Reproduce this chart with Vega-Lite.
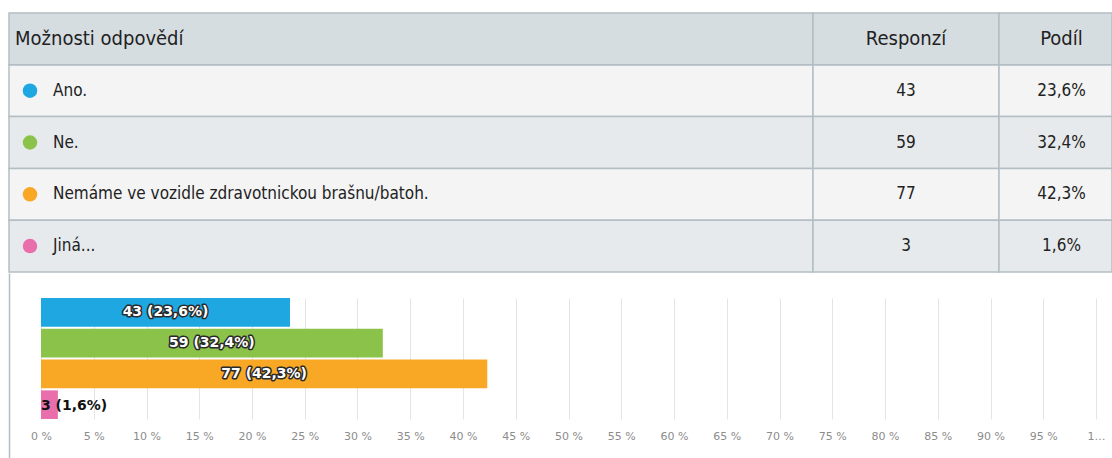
{
  "$schema": "https://vega.github.io/schema/vega-lite/v6.json",
  "padding": {"left": 8, "top": 12, "right": 0, "bottom": 0},
  "background": "white",
  "config": {
    "view": {"stroke": null},
    "font": "DejaVu Sans"
  },
  "datasets": {
    "answers": [
      {"answer": "Ano.", "count": 43, "share": "23,6%", "pct": 0.236, "barLabel": "43 (23,6%)"},
      {"answer": "Ne.", "count": 59, "share": "32,4%", "pct": 0.324, "barLabel": "59 (32,4%)"},
      {"answer": "Nemáme ve vozidle zdravotnickou brašnu/batoh.", "count": 77, "share": "42,3%", "pct": 0.423, "barLabel": "77 (42,3%)"},
      {"answer": "Jiná...", "count": 3, "share": "1,6%", "pct": 0.016, "barLabel": "3 (1,6%)"}
    ],
    "header": [
      {"row": "hdr", "c1": "Možnosti odpovědí", "c2": "Responzí", "c3": "Podíl"}
    ]
  },
  "vconcat": [
    {
      "hconcat": [
        {
          "width": 804,
          "height": 259,
          "layer": [
            {
              "data": {"name": "answers"},
              "mark": {"type": "rect", "stroke": "#b3bec4", "strokeWidth": 1.5},
              "encoding": {
                "y": {"field": "answer", "type": "nominal", "sort": null, "scale": {"domain": ["hdr", "Ano.", "Ne.", "Nemáme ve vozidle zdravotnickou brašnu/batoh.", "Jiná..."], "paddingInner": 0, "paddingOuter": 0}, "axis": null},
                "fill": {"field": "answer", "type": "nominal", "scale": {"domain": ["Ano.", "Ne.", "Nemáme ve vozidle zdravotnickou brašnu/batoh.", "Jiná..."], "range": ["#f4f4f4", "#e7eaec", "#f4f4f4", "#e7eaec"]}, "legend": null}
              }
            },
            {
              "data": {"name": "header"},
              "mark": {"type": "rect", "fill": "#d6dde1", "stroke": "#b3bec4", "strokeWidth": 1.5},
              "encoding": {
                "y": {"field": "row", "type": "nominal", "axis": null}
              }
            },
            {
              "data": {"name": "answers"},
              "mark": {"type": "circle", "size": 210, "opacity": 1},
              "encoding": {
                "y": {"field": "answer", "type": "nominal", "sort": null, "axis": null},
                "x": {"value": 21},
                "color": {"field": "answer", "type": "nominal", "scale": {"domain": ["Ano.", "Ne.", "Nemáme ve vozidle zdravotnickou brašnu/batoh.", "Jiná..."], "range": ["#1ea7e1", "#8bc34a", "#f9a825", "#e86fac"]}, "legend": null}
              }
            },
            {
              "data": {"name": "answers"},
              "mark": {"type": "text", "align": "left", "baseline": "middle", "font": "'DejaVu Sans Condensed'", "fontSize": 17, "color": "#222"},
              "encoding": {
                "y": {"field": "answer", "type": "nominal", "sort": null, "axis": null},
                "x": {"value": 44},
                "text": {"field": "answer"}
              }
            },
            {
              "data": {"name": "header"},
              "mark": {"type": "text", "align": "left", "baseline": "middle", "font": "'DejaVu Sans Condensed'", "fontSize": 20, "color": "#222"},
              "encoding": {
                "y": {"field": "row", "type": "nominal", "axis": null},
                "x": {"value": 6},
                "text": {"field": "c1"}
              }
            }
          ]
        },
        {
          "width": 186,
          "height": 259,
          "layer": [
            {
              "data": {"name": "answers"},
              "mark": {"type": "rect", "stroke": "#b3bec4", "strokeWidth": 1.5},
              "encoding": {
                "y": {"field": "answer", "type": "nominal", "sort": null, "scale": {"domain": ["hdr", "Ano.", "Ne.", "Nemáme ve vozidle zdravotnickou brašnu/batoh.", "Jiná..."], "paddingInner": 0, "paddingOuter": 0}, "axis": null},
                "fill": {"field": "answer", "type": "nominal", "scale": {"domain": ["Ano.", "Ne.", "Nemáme ve vozidle zdravotnickou brašnu/batoh.", "Jiná..."], "range": ["#f4f4f4", "#e7eaec", "#f4f4f4", "#e7eaec"]}, "legend": null}
              }
            },
            {
              "data": {"name": "header"},
              "mark": {"type": "rect", "fill": "#d6dde1", "stroke": "#b3bec4", "strokeWidth": 1.5},
              "encoding": {
                "y": {"field": "row", "type": "nominal", "axis": null}
              }
            },
            {
              "data": {"name": "answers"},
              "mark": {"type": "text", "align": "center", "baseline": "middle", "font": "'DejaVu Sans Condensed'", "fontSize": 17, "color": "#222"},
              "encoding": {
                "y": {"field": "answer", "type": "nominal", "sort": null, "axis": null},
                "text": {"field": "count"}
              }
            },
            {
              "data": {"name": "header"},
              "mark": {"type": "text", "align": "center", "baseline": "middle", "font": "'DejaVu Sans Condensed'", "fontSize": 20, "color": "#222"},
              "encoding": {
                "y": {"field": "row", "type": "nominal", "axis": null},
                "text": {"field": "c2"}
              }
            }
          ]
        },
        {
          "width": 113,
          "height": 259,
          "layer": [
            {
              "data": {"name": "answers"},
              "mark": {"type": "rect", "stroke": "#b3bec4", "strokeWidth": 1.5},
              "encoding": {
                "y": {"field": "answer", "type": "nominal", "sort": null, "scale": {"domain": ["hdr", "Ano.", "Ne.", "Nemáme ve vozidle zdravotnickou brašnu/batoh.", "Jiná..."], "paddingInner": 0, "paddingOuter": 0}, "axis": null},
                "fill": {"field": "answer", "type": "nominal", "scale": {"domain": ["Ano.", "Ne.", "Nemáme ve vozidle zdravotnickou brašnu/batoh.", "Jiná..."], "range": ["#f4f4f4", "#e7eaec", "#f4f4f4", "#e7eaec"]}, "legend": null}
              }
            },
            {
              "data": {"name": "header"},
              "mark": {"type": "rect", "fill": "#d6dde1", "stroke": "#b3bec4", "strokeWidth": 1.5},
              "encoding": {
                "y": {"field": "row", "type": "nominal", "axis": null}
              }
            },
            {
              "data": {"name": "answers"},
              "mark": {"type": "text", "align": "center", "baseline": "middle", "dx": 6, "font": "'DejaVu Sans Condensed'", "fontSize": 17, "color": "#222"},
              "encoding": {
                "y": {"field": "answer", "type": "nominal", "sort": null, "axis": null},
                "text": {"field": "share"}
              }
            },
            {
              "data": {"name": "header"},
              "mark": {"type": "text", "align": "center", "baseline": "middle", "dx": 6, "font": "'DejaVu Sans Condensed'", "fontSize": 20, "color": "#222"},
              "encoding": {
                "y": {"field": "row", "type": "nominal", "axis": null},
                "text": {"field": "c3"}
              }
            }
          ]
        }
      ],
      "spacing": 0,
      "bounds": "flush"
    },
    {
      "width": 1104,
      "height": 121,
      "data": {"name": "answers"},
      "layer": [
        {
          "mark": {"type": "bar"},
          "encoding": {
            "y": {"field": "answer", "type": "nominal", "sort": null,
                  "scale": {"type": "band", "domain": ["Ano.", "Ne.", "Nemáme ve vozidle zdravotnickou brašnu/batoh.", "Jiná..."], "paddingInner": 0.07, "paddingOuter": 0},
                  "axis": null},
            "x": {"field": "pct", "type": "quantitative",
                  "scale": {"domain": [0, 1], "range": [32, 1087], "nice": false, "zero": true},
                  "axis": {"values": [0, 0.05, 0.1, 0.15, 0.2, 0.25, 0.3, 0.35, 0.4, 0.45, 0.5, 0.55, 0.6, 0.65, 0.7, 0.75, 0.8, 0.85, 0.9, 0.95, 1],
                           "labelExpr": "datum.value >= 1 ? '1…' : round(datum.value * 100) + ' %'",
                           "domain": false, "ticks": false, "grid": true, "gridColor": "#e4e4e4", "gridWidth": 1,
                           "labelColor": "#8c8c8c", "labelFont": "DejaVu Sans", "labelFontSize": 11, "labelPadding": 11,
                           "labelOverlap": false, "labelFlush": false, "title": null}},
            "color": {"field": "answer", "type": "nominal", "scale": {"domain": ["Ano.", "Ne.", "Nemáme ve vozidle zdravotnickou brašnu/batoh.", "Jiná..."], "range": ["#1ea7e1", "#8bc34a", "#f9a825", "#e86fac"]}, "legend": null}
          }
        },
        {
          "transform": [{"filter": "datum.pct >= 0.05"}],
          "mark": {"type": "text", "align": "center", "baseline": "middle", "fontWeight": "bold", "fontSize": 14, "font": "DejaVu Sans", "fill": "#2a2a2a", "stroke": "#2a2a2a", "strokeWidth": 3, "strokeJoin": "round"},
          "encoding": {
            "y": {"field": "answer", "type": "nominal", "sort": null, "scale": {"type": "band", "domain": ["Ano.", "Ne.", "Nemáme ve vozidle zdravotnickou brašnu/batoh.", "Jiná..."], "paddingInner": 0.07, "paddingOuter": 0}, "axis": null},
            "x": {"field": "pct", "type": "quantitative", "scale": {"domain": [0, 1], "range": [32, 559.5], "nice": false}, "axis": null},
            "text": {"field": "barLabel"}
          }
        },
        {
          "transform": [{"filter": "datum.pct >= 0.05"}],
          "mark": {"type": "text", "align": "center", "baseline": "middle", "fontWeight": "bold", "fontSize": 14, "font": "DejaVu Sans", "fill": "white"},
          "encoding": {
            "y": {"field": "answer", "type": "nominal", "sort": null, "scale": {"type": "band", "domain": ["Ano.", "Ne.", "Nemáme ve vozidle zdravotnickou brašnu/batoh.", "Jiná..."], "paddingInner": 0.07, "paddingOuter": 0}, "axis": null},
            "x": {"field": "pct", "type": "quantitative", "scale": {"domain": [0, 1], "range": [32, 559.5], "nice": false}, "axis": null},
            "text": {"field": "barLabel"}
          }
        },
        {
          "transform": [{"filter": "datum.pct < 0.05"}],
          "mark": {"type": "text", "align": "left", "baseline": "middle", "fontWeight": "bold", "fontSize": 14, "font": "DejaVu Sans", "fill": "#111"},
          "encoding": {
            "y": {"field": "answer", "type": "nominal", "sort": null,
                  "scale": {"type": "band", "domain": ["Ano.", "Ne.", "Nemáme ve vozidle zdravotnickou brašnu/batoh.", "Jiná..."], "range": [-25, 161], "paddingInner": 0.07, "paddingOuter": 1.0556, "align": 0.3846},
                  "axis": {"labels": false, "ticks": false, "title": null, "grid": false, "domain": true, "domainColor": "#b3bec4", "domainWidth": 1.5}},
            "x": {"datum": 0, "type": "quantitative", "scale": {"domain": [0, 1], "range": [32, 1087], "nice": false}, "axis": null},
            "text": {"field": "barLabel"}
          }
        }
      ],
      "resolve": {"scale": {"x": "independent", "y": "independent"}, "axis": {"x": "independent", "y": "independent"}}
    }
  ],
  "spacing": 25,
  "bounds": "full"
}
